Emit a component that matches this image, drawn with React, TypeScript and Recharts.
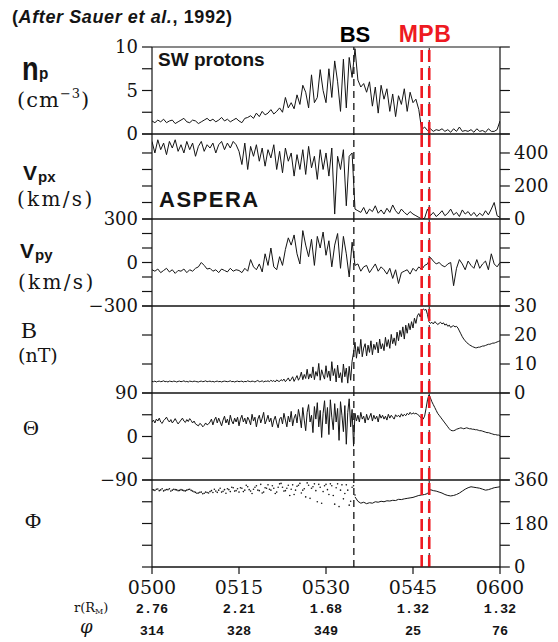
import React from "react";
import { ComposedChart, Line, Scatter, XAxis, YAxis, ReferenceLine } from "recharts";

// minutes between samples (0 = 05:00 UT)
const STEP = 0.5;
const FINE_STEP = 0.25;

// SW proton density, cm^-3 (every 0.5 min)
const npValues = [
  1.5, 1.3, 1.6, 1.4, 1.7, 1.3, 1.5, 1.6, 1.2, 1.4,
  1.6, 1.8, 1.4, 1.3, 1.6, 1.5, 1.2, 1.4, 1.6, 1.8,
  1.5, 1.7, 1.4, 1.6, 1.9, 1.5, 1.7, 1.4, 1.6, 1.8,
  1.5, 1.3, 1.8, 1.9, 2.1, 1.8, 2.4, 2.0, 2.6, 2.2,
  2.4, 2.8, 2.3, 2.6, 3.0, 2.5, 4.2, 3.0, 3.6, 2.9,
  4.5, 3.4, 5.6, 4.8, 3.0, 6.8, 3.6, 4.2, 7.4, 5.0,
  3.6, 7.5, 4.2, 8.4, 6.0, 2.6, 8.6, 3.0, 8.8, 6.5,
  9.8, 6.2, 5.4, 5.8, 4.8, 6.0, 3.2, 5.4, 2.4, 5.6,
  4.0, 5.2, 2.6, 4.6, 2.0, 4.4, 3.4, 5.2, 2.6, 4.8,
  3.6, 4.0, 2.8, 0.5, 0.8, 0.4, 0.6, 0.3, 0.5, 0.4,
  0.6, 0.3, 0.5, 0.2, 0.6, 0.3, 0.8, 0.3, 0.4, 0.3,
  0.5, 0.2, 0.6, 0.3, 0.4, 0.2, 0.6, 0.3, 0.3, 0.5,
  1.5,
];

// Vpx, km/s (every 0.5 min)
const vpxValues = [
  470, 400, 480, 420, 460, 390, 470, 430, 480, 410,
  450, 400, 470, 420, 460, 380, 440, 470, 410, 450,
  430, 460, 400, 450, 470, 420, 460, 430, 470, 450,
  410, 330, 460, 300, 440, 380, 450, 350, 430, 320,
  420, 370, 450, 300, 410, 280, 430, 350, 400, 260,
  390, 300, 420, 270, 440, 310, 380, 240, 420, 300,
  400, 260, 430, 30, 380, 300, 420, 80, 380, 400,
  60, 50, 40, 70, 30, 60, 45, 80, 35, 55,
  30, 65, 40, 85, 50, 30, 60, 40, 25, 45,
  30, 20, 10, 0, 5, 60, 20, 40, 15, 30,
  50, 20, 35, 60, 25, 40, 15, 55, 30, 45,
  20, 40, 15, 35, 20, 50, 25, 60, 100, 20,
  10,
];

// Vpy, km/s (every 0.5 min)
const vpyValues = [
  -50, -60, -45, -70, -55, -40, -65, -50, -75, -55,
  -60, -45, -70, -50, -60, -40, -30, 0, -20, -45,
  -40, -60, -50, -70, -45, -55, -65, -40, -60, -50,
  -55, -70, -40, -60, 20, -30, -50, -10, -65, 60,
  -20, 100, -30, -50, 40, -20, 90, 170, 120, 190,
  60, -10, 220, 120, 40, 160, -20, 180, 100, 210,
  50, 150, -30, 120, 200, -40, 180, 60, -100, 140,
  -20, -10, -60, -30, -20, -70, -40, -10, -60, -30,
  -50, -80, -40, -110, -50, -145, -70, -60, -50, -80,
  -40, -60, -30, -50, -20, -10, 35, 10, -10, 0,
  -20, -30, -10, 0, -160, -40, 20, -10, -50, 10,
  -20, -40, 20, -40, -10, 10, -50, 60, -10, -30,
  0,
];

// |B|, nT (every 0.25 min)
const bValues = [
  4.0, 3.9, 4.1, 3.8, 4.0, 4.1, 3.9, 4.0, 4.2, 3.9,
  4.0, 3.8, 4.1, 4.0, 3.9, 4.1, 4.0, 3.8, 4.0, 4.1,
  3.9, 4.0, 4.2, 3.9, 4.0, 3.8, 4.1, 4.0, 3.9, 4.1,
  4.0, 3.9, 3.8, 4.0, 4.1, 3.9, 4.0, 4.2, 3.9, 4.0,
  4.1, 3.9, 4.0, 3.8, 4.0, 4.1, 3.9, 4.0, 3.8, 4.0,
  4.1, 4.0, 3.9, 4.0, 4.2, 3.9, 4.0, 3.8, 4.0, 4.1,
  3.9, 4.0, 4.1, 3.8, 4.0, 3.9, 4.2, 4.0, 3.9, 4.1,
  4.0, 3.8, 4.1, 4.3, 3.9, 4.0, 4.2, 3.8, 4.1, 4.0,
  4.2, 3.9, 4.4, 4.0, 4.3, 3.8, 4.5, 4.1, 4.0, 4.6,
  4.2, 4.8, 3.9, 4.5, 5.2, 4.1, 4.7, 5.6, 4.0, 5.0,
  6.0, 4.4, 5.4, 7.2, 4.6, 6.4, 5.0, 8.2, 4.8, 6.6,
  5.2, 9.0, 4.6, 7.4, 5.8, 10.2, 4.4, 8.0, 6.2, 4.8,
  9.4, 5.4, 7.6, 4.2, 10.8, 6.0, 8.4, 3.8, 9.6, 5.2,
  7.0, 3.6, 10.0, 5.6, 8.6, 3.4, 9.2, 4.4, 11.0, 14.0,
  17.5, 12.0, 16.0, 13.5, 18.5, 12.5, 15.5, 17.0, 12.8, 16.5,
  14.0, 18.0, 13.2, 16.8, 15.0, 17.5, 13.8, 18.6, 15.2, 17.0,
  14.6, 19.2, 16.0, 18.4, 15.4, 20.2, 17.0, 19.0, 16.4, 21.0,
  18.0, 21.6, 19.4, 22.8, 18.6, 23.4, 20.6, 24.0, 21.8, 24.6,
  22.4, 25.8, 24.0, 26.6, 27.4, 26.2, 28.4, 29.0, 28.6, 28.8,
  27.0, 24.6, 24.0, 24.4, 23.8, 24.6, 24.2, 23.6, 24.0, 24.4,
  23.8, 24.2, 23.4, 23.8, 23.0, 23.4, 22.6, 23.0, 23.2, 22.8,
  23.0, 22.4, 21.4, 20.4, 19.4, 18.6, 18.0, 17.4, 17.0, 16.6,
  16.3, 16.0, 15.8, 15.6, 15.6, 15.8, 15.8, 16.0, 16.2, 16.2,
  16.4, 16.6, 16.8, 16.8, 17.0, 17.2, 17.2, 17.4, 17.6, 17.8,
  18.0,
];

// Theta, deg (every 0.25 min)
const thetaValues = [
  30, 34, 28, 36, 32, 38, 30, 27, 33, 36,
  40, 34, 30, 35, 28, 32, 37, 31, 26, 30,
  34, 38, 32, 29, 35, 31, 37, 33, 28, 32,
  26, 24, 22, 27, 25, 20, 23, 28, 24, 26,
  30, 36, 24, 34, 40, 28, 38, 30, 22, 34,
  42, 28, 36, 24, 44, 32, 26, 38, 30, 40,
  22, 36, 44, 30, 38, 26, 40, 34, 24, 46,
  32, 40, 20, 36, 44, 28, 38, 50, 26, 34,
  44, 30, 38, 20, 34, 42, 28, 18, 36, 40,
  26, 48, 34, 20, 42, 30, 52, 22, 38, 46,
  28, 56, 40, 18, 60, 34, 12, 50, 66, 30,
  44, 8, 62, 36, 70, 20, 54, -2, 48, 74,
  26, 60, 4, 76, 40, 14, 68, 30, 58, -8,
  72, 44, 10, 64, -16, 50, 78, 20, 56, -20,
  48, 32, 44, 30, 50, 36, 42, 28, 46, 34,
  40, 48, 32, 44, 36, 42, 30, 46, 38, 44,
  36, 42, 34, 46, 38, 44, 40, 36, 45, 41,
  44, 40, 47, 42, 46, 43, 48, 45, 50, 46,
  49, 47, 48, 46, 44, 40, 38, 36, 42, 58,
  76, 86, 80, 72, 66, 60, 54, 48, 44, 40,
  36, 32, 28, 24, 20, 16, 13, 12, 12, 13,
  15, 16, 17, 18, 17, 16, 17, 18, 17, 16,
  16, 15, 15, 14, 14, 13, 12, 12, 11, 10,
  9, 8, 8, 7, 6, 5, 4, 4, 3, 3,
  2,
];

// Phi, deg: scattered points before the bow shock (two interleaved sample sets, 0.5 min apart)
const phiDotsA = [
  321, 317, 323, 319, 315, 321, 324, 318, 320, 316,
  320, 316, 318, 322, 314, 309, 306, 310, 305, 308,
  312, 308, 314, 318, 310, 320, 324, 312, 328, 316,
  310, 326, 318, 332, 314, 322, 336, 316, 306, 328,
  340, 318, 326, 310, 344, 330, 316, 338, 322, 300,
  334, 346, 318, 290, 338, 326, 344, 270, 330, 312,
  342, 300, 336, 260, 344, 318, 282, 340, 256, 330,
  298,
];
const phiDotsB = [
  319, 322, 316, 324, 318, 320, 314, 322, 319, 317,
  318, 315, 321, 317, 311, 305, 309, 303, 310, 306,
  316, 322, 309, 326, 313, 305, 320, 330, 314, 324,
  328, 312, 338, 320, 304, 330, 318, 342, 310, 326,
  322, 336, 304, 330, 346, 314, 326, 296, 340, 318,
  338, 306, 324, 348, 284, 332, 316, 342, 264, 336,
  320, 344, 296, 328, 250, 340, 304, 318, 272, 336,
];
// Phi, deg: continuous trace from 0535 (every 0.5 min)
const phiLine = [
  290, 272, 264, 268, 262, 266, 264, 270, 268, 272,
  270, 274, 273, 276, 275, 280, 279, 282, 284, 286,
  288, 292, 296, 298, 300, 304, 320, 316, 314, 310,
  306, 300, 296, 294, 296, 300, 306, 314, 322, 328,
  332, 330, 328, 326, 322, 318, 320, 324, 328, 330,
  332,
];

const timeTicks = [0, 15, 30, 45, 60];
const timeLabels = ["0500", "0515", "0530", "0545", "0600"];
const rValues = ["2.76", "2.21", "1.68", "1.32", "1.32"];
const phiAngles = ["314", "328", "349", "25", "76"];

const bsTime = 34.8;
const mpbTimes = [46.5, 47.8];

const INK = "#141414";
const RED = "#ee1a22";
const SANS = "'Liberation Sans', Arial, sans-serif";
const SERIF = "'DejaVu Serif', serif";
const TSERIF = "'Liberation Serif', serif";
const MONO = "'Liberation Mono', monospace";

const toSeries = (vals: number[], start = 0, step = STEP) => vals.map((v, i) => ({ t: start + i * step, v }));

const fmt = (v: number) => (v < 0 ? `\u2212${Math.abs(v)}` : `${v}`);

interface PanelCfg {
  top: number;
  bottom: number;
  domain: [number, number];
  leftTicks: number[];
  leftLabels: number[];
  rightTicks: number[];
  rightLabels: number[];
  values?: number[];
  step?: number;
}

const panels: PanelCfg[] = [
  { top: 47, bottom: 134, domain: [0, 10], leftTicks: [0, 2.5, 5, 7.5, 10], leftLabels: [0, 5, 10], rightTicks: [0, 2.5, 5, 7.5, 10], rightLabels: [], values: npValues },
  { top: 134, bottom: 219, domain: [0, 515], leftTicks: [0, 100, 200, 300, 400, 515], leftLabels: [], rightTicks: [0, 100, 200, 300, 400, 515], rightLabels: [0, 200, 400], values: vpxValues },
  { top: 219, bottom: 306, domain: [-300, 300], leftTicks: [-300, -200, -100, 0, 100, 200, 300], leftLabels: [-300, 0, 300], rightTicks: [-300, -200, -100, 0, 100, 200, 300], rightLabels: [], values: vpyValues },
  { top: 306, bottom: 393, domain: [0, 30], leftTicks: [0, 10, 20, 30], leftLabels: [], rightTicks: [0, 10, 20, 30], rightLabels: [0, 10, 20, 30], values: bValues, step: FINE_STEP },
  { top: 393, bottom: 480, domain: [-90, 90], leftTicks: [-90, -45, 0, 45, 90], leftLabels: [-90, 0, 90], rightTicks: [-90, -45, 0, 45, 90], rightLabels: [], values: thetaValues, step: FINE_STEP },
  { top: 480, bottom: 567, domain: [0, 360], leftTicks: [0, 90, 180, 270, 360], leftLabels: [], rightTicks: [0, 90, 180, 270, 360], rightLabels: [0, 180, 360] },
];

function TimeTick(props: any) {
  const { x, y, payload } = props;
  const i = timeTicks.indexOf(payload.value);
  return (
    <g>
      <text x={x} y={y + 18} textAnchor="middle" fontFamily={SERIF} fontSize={19} fill={INK}>{timeLabels[i]}</text>
      <text x={x} y={y + 37} textAnchor="middle" fontFamily={MONO} fontWeight="bold" fontSize={13.5} fill={INK}>{rValues[i]}</text>
      <text x={x} y={y + 59} textAnchor="middle" fontFamily={MONO} fontWeight="bold" fontSize={13.5} fill={INK}>{phiAngles[i]}</text>
    </g>
  );
}

const Dot = (p: any) => <circle cx={p.cx} cy={p.cy} r={0.8} fill={INK} />;

function Panel({ cfg, last }: { cfg: PanelCfg; last: boolean }) {
  const mt = 12;
  const mb = last ? 0 : 12;
  const xh = last ? 75 : 0;
  const height = cfg.bottom - cfg.top + mt + mb + xh;
  const tick = { fill: INK, fontSize: 18, fontFamily: SERIF };
  return (
    <div style={{ position: "absolute", left: 0, top: cfg.top - mt }}>
      <ComposedChart width={558} height={height} margin={{ top: mt, right: 0, bottom: mb, left: 0 }}>
        <XAxis
          dataKey="t"
          type="number"
          domain={[0, 60]}
          allowDataOverflow
          ticks={timeTicks}
          interval={0}
          hide={!last}
          height={xh}
          tickSize={7}
          tickMargin={2}
          axisLine={{ stroke: INK, strokeWidth: 1.2 }}
          tickLine={{ stroke: INK, strokeWidth: 1.2 }}
          tick={<TimeTick />}
        />
        <YAxis
          yAxisId="L"
          orientation="left"
          type="number"
          width={152}
          domain={cfg.domain}
          allowDataOverflow
          ticks={cfg.leftTicks}
          interval={0}
          tickSize={10}
          tickMargin={4}
          axisLine={{ stroke: INK, strokeWidth: 1.2 }}
          tickLine={{ stroke: INK, strokeWidth: 1.2 }}
          tick={tick}
          tickFormatter={(v: number) => (cfg.leftLabels.includes(v) ? fmt(v) : "")}
        />
        <YAxis
          yAxisId="R"
          orientation="right"
          type="number"
          width={58}
          domain={cfg.domain}
          allowDataOverflow
          ticks={cfg.rightTicks}
          interval={0}
          tickSize={10}
          tickMargin={4}
          axisLine={{ stroke: INK, strokeWidth: 1.2 }}
          tickLine={{ stroke: INK, strokeWidth: 1.2 }}
          tick={tick}
          tickFormatter={(v: number) => (cfg.rightLabels.includes(v) ? fmt(v) : "")}
        />
        <ReferenceLine yAxisId="L" y={cfg.domain[1]} stroke={INK} strokeWidth={1.2} />
        <ReferenceLine yAxisId="L" y={cfg.domain[0]} stroke={INK} strokeWidth={1.2} />
        {cfg.values && (
          <Line yAxisId="L" data={toSeries(cfg.values, 0, cfg.step ?? STEP)} dataKey="v" type="linear" stroke={INK} strokeWidth={1} dot={false} isAnimationActive={false} />
        )}
        {last && (
          <Scatter yAxisId="L" data={toSeries(phiDotsA)} dataKey="v" shape={Dot} isAnimationActive={false} />
        )}
        {last && (
          <Scatter yAxisId="L" data={toSeries(phiDotsB, STEP / 2)} dataKey="v" shape={Dot} isAnimationActive={false} />
        )}
        {last && (
          <Line yAxisId="L" data={toSeries(phiLine, 35)} dataKey="v" type="linear" stroke={INK} strokeWidth={1} dot={false} isAnimationActive={false} />
        )}
        <ReferenceLine yAxisId="L" x={bsTime} stroke={INK} strokeWidth={1.3} strokeDasharray="7 5" />
        <ReferenceLine yAxisId="L" x={mpbTimes[1]} stroke={INK} strokeWidth={1} strokeDasharray="5 4" />
        {mpbTimes.map((t) => (
          <ReferenceLine key={t} yAxisId="L" x={t} stroke={RED} strokeWidth={2.6} strokeDasharray="12 6" />
        ))}
      </ComposedChart>
    </div>
  );
}

function Labels() {
  return (
    <svg width={558} height={642} style={{ position: "absolute", left: 0, top: 0, pointerEvents: "none" }}>
      <text x={12} y={23} fontFamily={SANS} fontWeight="bold" fontSize={18} letterSpacing={0.6} fill={INK}>
        (<tspan fontStyle="italic">After Sauer et al.</tspan>, 1992)
      </text>
      <text x={355} y={42} textAnchor="middle" fontFamily={SANS} fontWeight="bold" fontSize={22} fill="#000">BS</text>
      <text x={425} y={42} textAnchor="middle" fontFamily={SANS} fontWeight="bold" fontSize={23} letterSpacing={0.5} fill={RED}>MPB</text>

      <text x={158} y={66} fontFamily={SANS} fontWeight="bold" fontSize={19} fill={INK}>SW protons</text>
      <text x={159} y={207} fontFamily={SANS} fontWeight="bold" fontSize={22} letterSpacing={1.5} fill={INK}>ASPERA</text>

      <text transform="translate(22,80) scale(0.8,1)" fontFamily={SANS} fontWeight="bold" fontSize={34} fill={INK}>n</text>
      <text transform="translate(39,79) scale(0.9,1)" fontFamily={SANS} fontWeight="bold" fontSize={17} fill={INK}>p</text>
      <text x={17} y={107} fontFamily={SERIF} fontSize={21} letterSpacing={1} fill={INK}>
        (cm<tspan fontSize={13} dy={-9}>{"\u22123"}</tspan><tspan dy={9}>)</tspan>
      </text>

      <text x={23} y={180} fontFamily={SANS} fontWeight="bold" fontSize={21} fill={INK}>V</text>
      <text x={38} y={182} fontFamily={SANS} fontWeight="bold" fontSize={15} fill={INK}>px</text>
      <text x={17} y={206} fontFamily={SERIF} fontSize={20} letterSpacing={2.3} fill={INK}>(km/s)</text>

      <text x={20} y={258} fontFamily={SANS} fontWeight="bold" fontSize={21} fill={INK}>V</text>
      <text x={35} y={260} fontFamily={SANS} fontWeight="bold" fontSize={15} fill={INK}>py</text>
      <text x={18} y={289} fontFamily={SERIF} fontSize={20} letterSpacing={2.3} fill={INK}>(km/s)</text>

      <text x={21} y={338} fontFamily={TSERIF} fontSize={24} fill={INK}>B</text>
      <text x={18} y={362} fontFamily={SERIF} fontSize={19} fill={INK}>(nT)</text>

      <text x={23} y={435} fontFamily={TSERIF} fontSize={22} fill={INK}>{"\u0398"}</text>
      <text x={25} y={528} fontFamily={TSERIF} fontSize={22} fill={INK}>{"\u03A6"}</text>

      <text x={74} y={612} fontFamily={SERIF} fontSize={13} fill={INK}>
        r(R<tspan fontSize={8} dy={2}>M</tspan><tspan dy={-2}>)</tspan>
      </text>
      <text x={80} y={633} fontFamily={SERIF} fontStyle="italic" fontSize={18} fill={INK}>{"\u03C6"}</text>
    </svg>
  );
}

export default function App() {
  return (
    <div style={{ position: "absolute", left: 0, top: 0, width: 558, height: 642, background: "#fff" }}>
      {panels.map((cfg, i) => (
        <Panel key={i} cfg={cfg} last={i === panels.length - 1} />
      ))}
      <Labels />
    </div>
  );
}
